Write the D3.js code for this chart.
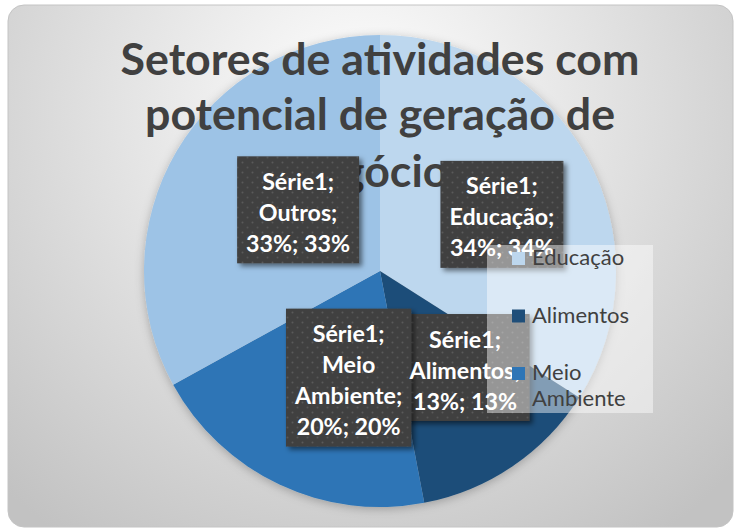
<!DOCTYPE html>
<html>
<head>
<meta charset="utf-8">
<script src="https://cdn.jsdelivr.net/npm/d3@7"></script>
<style>
  html, body { margin: 0; padding: 0; background: #ffffff; }
  svg { display: block; }
</style>
</head>
<body>
<svg id="chart" width="738" height="530"></svg>
<script>
// Chart data
const seriesName = "Série1";
const categories = ["Educação", "Alimentos", "Meio Ambiente", "Outros"];
const values = [34, 13, 20, 33];
const titleLines = ["Setores de atividades com", "potencial de geração de", "negócios"];
const legendCategories = ["Educação", "Alimentos", "Meio Ambiente"];

// Styling / layout
const colors = ["#BDD7EE", "#1F4E79", "#2E75B6", "#9DC3E6"];
const FONT = "Lato, 'Open Sans', sans-serif";
const W = 738, H = 530;
const cx = 380, cy = 271, R = 236;
const labelRadius = 130;
const labelNudge = [[8, 6], [12, -11], [24, -11], [30, 5]];
const labelDrawOrder = [0, 1, 2, 3];

const svg = d3.select("#chart");
const defs = svg.append("defs");

// measure helper: font size so that a string spans a given width
function fitSize(text, weight, target) {
  const t = svg.append("text").attr("font-family", FONT).attr("font-weight", weight)
    .attr("font-size", 100).text(text);
  const w = t.node().getComputedTextLength();
  t.remove();
  return 100 * target / w;
}

// background gradient
const bg = defs.append("radialGradient").attr("id", "bgGrad")
  .attr("gradientUnits", "userSpaceOnUse")
  .attr("cx", 360).attr("cy", 110).attr("r", 520);
bg.append("stop").attr("offset", "0").attr("stop-color", "#ffffff");
bg.append("stop").attr("offset", "0.45").attr("stop-color", "#e4e4e4");
bg.append("stop").attr("offset", "1").attr("stop-color", "#c2c2c2");

// shadow filters
const fBox = defs.append("filter").attr("id", "boxShadow")
  .attr("x", "-20%").attr("y", "-20%").attr("width", "150%").attr("height", "150%");
fBox.append("feDropShadow").attr("dx", 3).attr("dy", 3).attr("stdDeviation", 2.5)
  .attr("flood-color", "#000").attr("flood-opacity", 0.5);
const fPie = defs.append("filter").attr("id", "pieShadow")
  .attr("x", "-20%").attr("y", "-20%").attr("width", "140%").attr("height", "140%");
fPie.append("feDropShadow").attr("dx", 0).attr("dy", 2).attr("stdDeviation", 5)
  .attr("flood-color", "#000").attr("flood-opacity", 0.25);

// dotted fill for data label boxes
const pat = defs.append("pattern").attr("id", "dots")
  .attr("patternUnits", "userSpaceOnUse").attr("width", 10).attr("height", 10);
pat.append("rect").attr("width", 10).attr("height", 10).attr("fill", "#404040");
pat.append("circle").attr("cx", 2.5).attr("cy", 2.5).attr("r", 1).attr("fill", "#5a5a5a");
pat.append("circle").attr("cx", 7.5).attr("cy", 7.5).attr("r", 1).attr("fill", "#555555");

// chart area
svg.append("rect").attr("x", 8).attr("y", 5).attr("width", W - 13).attr("height", H - 8)
  .attr("rx", 16).attr("ry", 16)
  .attr("fill", "url(#bgGrad)").attr("stroke", "#c4c4c4").attr("stroke-width", 1);

// pie
const total = d3.sum(values);
const pie = d3.pie().sort(null).value(d => d)(values);
const arc = d3.arc().innerRadius(0).outerRadius(R);
const color = d3.scaleOrdinal().domain(categories).range(colors);

const pieG = svg.append("g").attr("transform", `translate(${cx},${cy})`)
  .attr("filter", "url(#pieShadow)");
pieG.selectAll("path").data(pie).join("path")
  .attr("d", arc)
  .attr("fill", (d, i) => color(categories[i]));

// title
const titleSize = fitSize(titleLines[0], 700, 519);
const titleBase = [75, 130, 187];
svg.append("g").selectAll("text").data(titleLines).join("text")
  .attr("x", cx).attr("y", (d, i) => titleBase[i])
  .attr("text-anchor", "middle")
  .attr("font-family", FONT).attr("font-weight", 700)
  .attr("font-size", titleSize).attr("fill", "#404040")
  .text(d => d);

// data labels
const pct = d3.format(".0%");
const labelSize = fitSize("33%; 33%", 700, 104);
const lineH = 31;
const labels = pie.map((d, i) => {
  const words = categories[i].split(" ");
  words[words.length - 1] += ";";
  const p = pct(values[i] / total);
  const lines = [seriesName + ";", ...words, p + "; " + p];
  const mid = (d.startAngle + d.endAngle) / 2;
  const x = cx + labelRadius * Math.sin(mid) + labelNudge[i][0];
  const y = cy - labelRadius * Math.cos(mid) + labelNudge[i][1];
  return { i, lines, x, y };
});

// measure label widths
labels.forEach(l => {
  let maxW = 0;
  l.lines.forEach(s => {
    const t = svg.append("text").attr("font-family", FONT).attr("font-weight", 700)
      .attr("font-size", labelSize).text(s);
    maxW = Math.max(maxW, t.node().getComputedTextLength());
    t.remove();
  });
  l.w = maxW + 18;
  l.h = l.lines.length * lineH + 14;
});

const ordered = labelDrawOrder.map(k => labels[k]);
const boxG = svg.append("g");
boxG.selectAll("rect").data(ordered).join("rect")
  .attr("x", d => d.x - d.w / 2).attr("y", d => d.y - d.h / 2)
  .attr("width", d => d.w).attr("height", d => d.h)
  .attr("fill", "url(#dots)").attr("filter", "url(#boxShadow)");

const textG = svg.append("g");
ordered.forEach(l => {
  textG.append("g").selectAll("text").data(l.lines).join("text")
    .attr("x", l.x)
    .attr("y", (s, j) => l.y + (j - (l.lines.length - 1) / 2) * lineH + 11)
    .attr("text-anchor", "middle")
    .attr("font-family", FONT).attr("font-weight", 700)
    .attr("font-size", labelSize).attr("fill", "#ffffff")
    .text(s => s);
});

// legend
const legendSize = fitSize("Alimentos", 400, 97);
const legendG = svg.append("g");
legendG.append("rect").attr("x", 487).attr("y", 245).attr("width", 166).attr("height", 168)
  .attr("fill", "#ffffff").attr("fill-opacity", 0.45);
const legendY = d3.scalePoint().domain(legendCategories).range([265, 380]);
legendCategories.forEach((c, i) => {
  const y = legendY(c);
  legendG.append("rect").attr("x", 512).attr("y", y - 13).attr("width", 13).attr("height", 13)
    .attr("fill", color(c));
  const words = c.split(" ");
  legendG.append("g").selectAll("text").data(words).join("text")
    .attr("x", 532).attr("y", (w, j) => y + j * 26)
    .attr("font-family", FONT).attr("font-weight", 400)
    .attr("font-size", legendSize).attr("fill", "#404040")
    .text(w => w);
});
</script>
</body>
</html>
